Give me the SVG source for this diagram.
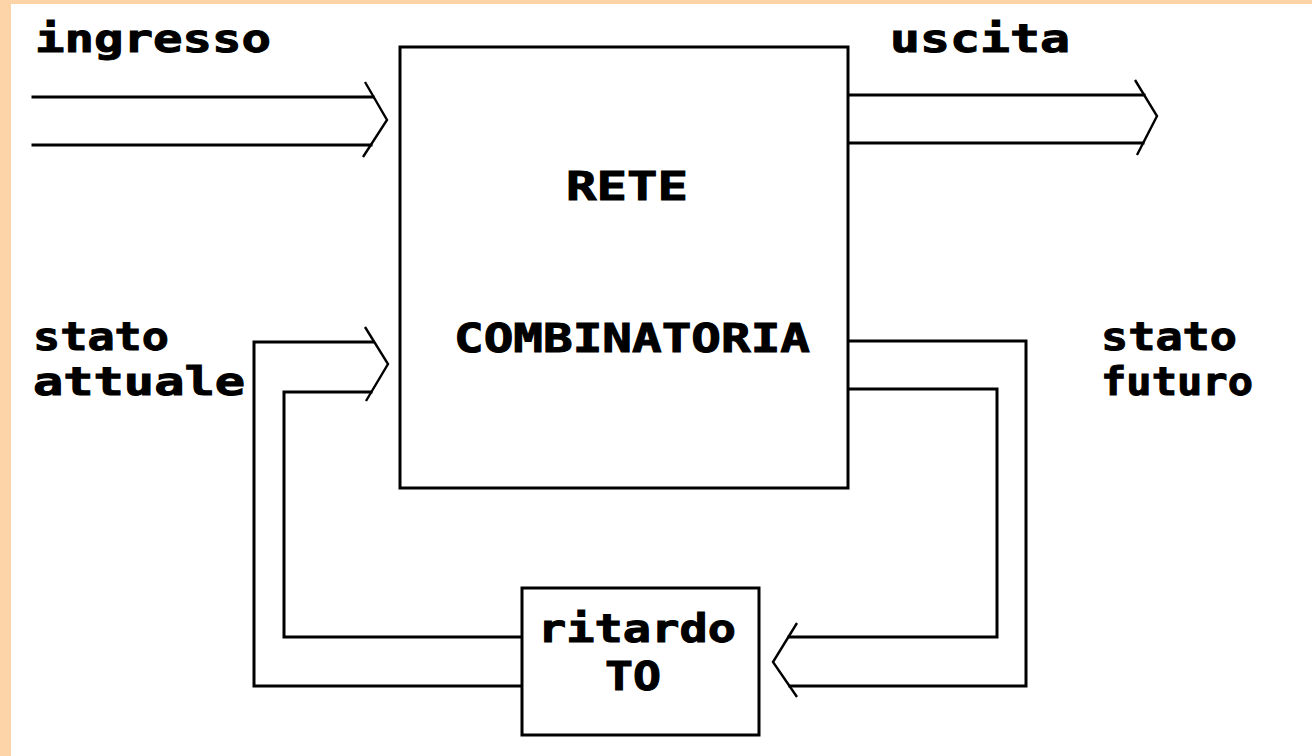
<svg xmlns="http://www.w3.org/2000/svg" width="1312" height="756" viewBox="0 0 1312 756">
<style>
.ln{fill:none;stroke:#000;stroke-width:3;stroke-linejoin:miter;stroke-linecap:square}
.ch{fill:none;stroke:#000;stroke-width:2.4;stroke-linejoin:miter}
.box{fill:#fff;stroke:#000;stroke-width:3}
.t{font-family:"DejaVu Sans Mono","Liberation Mono",monospace;font-weight:bold;font-size:39px;fill:#000;stroke:#000;stroke-width:1}
</style>
<rect x="0" y="0" width="1312" height="756" fill="#fff"/>
<rect x="0" y="0" width="1312" height="4" fill="#FDD3A8"/>
<rect x="0" y="0" width="11" height="756" fill="#FDD3A8"/>
<g id="connectors">
<path class="ln" d="M33,97 H373 M33,145 H371"/>
<path class="ch" d="M365,82 L387,120 L363,157"/>
<path class="ln" d="M848,95 H1144 M848,143 H1143"/>
<path class="ch" d="M1135,80 L1157,116 L1137,155"/>
<path class="ln" d="M373,342 H254 V686 H522"/>
<path class="ln" d="M371,392 H284 V637 H522"/>
<path class="ch" d="M365,327 L388,364 L366,401"/>
<path class="ln" d="M848,341 H1026 V686 H790"/>
<path class="ln" d="M848,389 H997 V637 H789"/>
<path class="ch" d="M797,623 L773,662 L797,697"/>
</g>
<g id="rete">
<rect class="box" x="400" y="47" width="448" height="441"/>
<text class="t" x="566" y="200" textLength="122" lengthAdjust="spacingAndGlyphs">RETE</text>
<text class="t" x="454" y="352" textLength="356" lengthAdjust="spacingAndGlyphs">COMBINATORIA</text>
</g>
<g id="ritardo">
<rect class="box" x="522" y="588" width="237" height="147"/>
<text class="t" x="538" y="642" textLength="198" lengthAdjust="spacingAndGlyphs">ritardo</text>
<text class="t" x="605" y="690" textLength="56" lengthAdjust="spacingAndGlyphs">TO</text>
</g>
<g id="labels">
<text class="t" x="35" y="52" textLength="236" lengthAdjust="spacingAndGlyphs">ingresso</text>
<text class="t" x="890" y="52" textLength="180" lengthAdjust="spacingAndGlyphs">uscita</text>
<text class="t" x="33" y="350" textLength="136" lengthAdjust="spacingAndGlyphs">stato</text>
<text class="t" x="33" y="395" textLength="212" lengthAdjust="spacingAndGlyphs">attuale</text>
<text class="t" x="1101" y="350" textLength="136" lengthAdjust="spacingAndGlyphs">stato</text>
<text class="t" x="1101" y="395" textLength="152" lengthAdjust="spacingAndGlyphs">futuro</text>
</g>
</svg>
